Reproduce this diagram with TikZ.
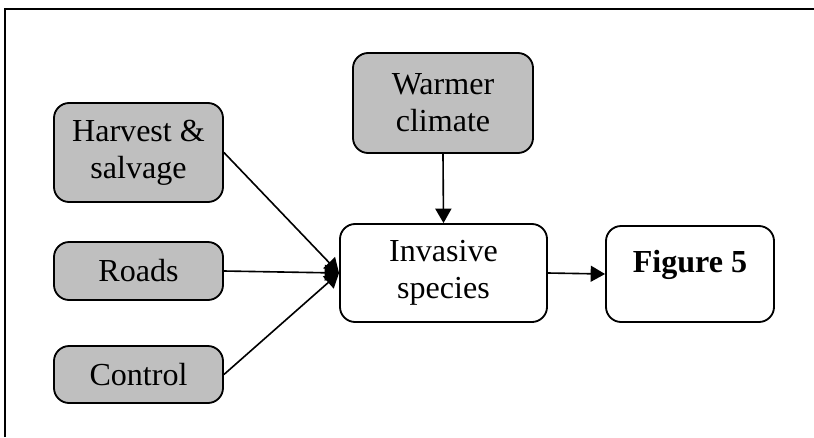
\documentclass[tikz,border=0pt]{standalone}
\usepackage{fontspec}
\setmainfont{Liberation Serif}
\usepackage{tikz}
\usetikzlibrary{arrows.meta}
\newcommand{\boxcolor}{black!25}
\newcommand{\edgewidth}{1.3pt}
\newcommand{\linkwidth}{1.15pt}
\tikzset{
  box/.style={draw, line width=\edgewidth, rounded corners=0.38cm, align=center,
    inner sep=0pt, font=\fontsize{22.8}{26.5}\selectfont},
  driver/.style={box, fill=\boxcolor},
  link/.style={line width=\linkwidth, -{Triangle[length=0.36cm, width=0.4cm]}}
}
\begin{document}
\begin{tikzpicture}[x=0.025cm, y=-0.025cm]
\useasboundingbox (0,0) rectangle (814,437);
\draw[line width=1.4pt] (5,437) -- (5,9) -- (814,9);
%drivers
\node[driver, minimum width=4.225cm, minimum height=2.475cm] (harvest) at (138.5,152.5) {Harvest \&\\salvage};
\node[driver, minimum width=4.225cm, minimum height=1.45cm] (roads) at (138.5,271) {Roads};
\node[driver, minimum width=4.225cm, minimum height=1.425cm] (control) at (138.5,374.5) {Control};
\node[driver, minimum width=4.5cm, minimum height=2.5cm] (warmer) at (443,103) {Warmer\\climate};
%response
\node[box, minimum width=5.175cm, minimum height=2.45cm] (invasive) at (443.5,273) {Invasive\\species};
\node[box, minimum width=4.2cm, minimum height=2.4cm, text height=0.7em, text depth=0.9em,
  font=\fontsize{22.8}{26.5}\selectfont\bfseries] (fig) at (690,274) {Figure 5};
%links
\draw[link] (harvest.east) -- (invasive.west);
\draw[link] (roads.east) -- (invasive.west);
\draw[link] (control.east) -- (invasive.west);
\draw[link] (warmer.south) -- (invasive.north);
\draw[link] (invasive.east) -- (fig.west);
\end{tikzpicture}
\end{document}
